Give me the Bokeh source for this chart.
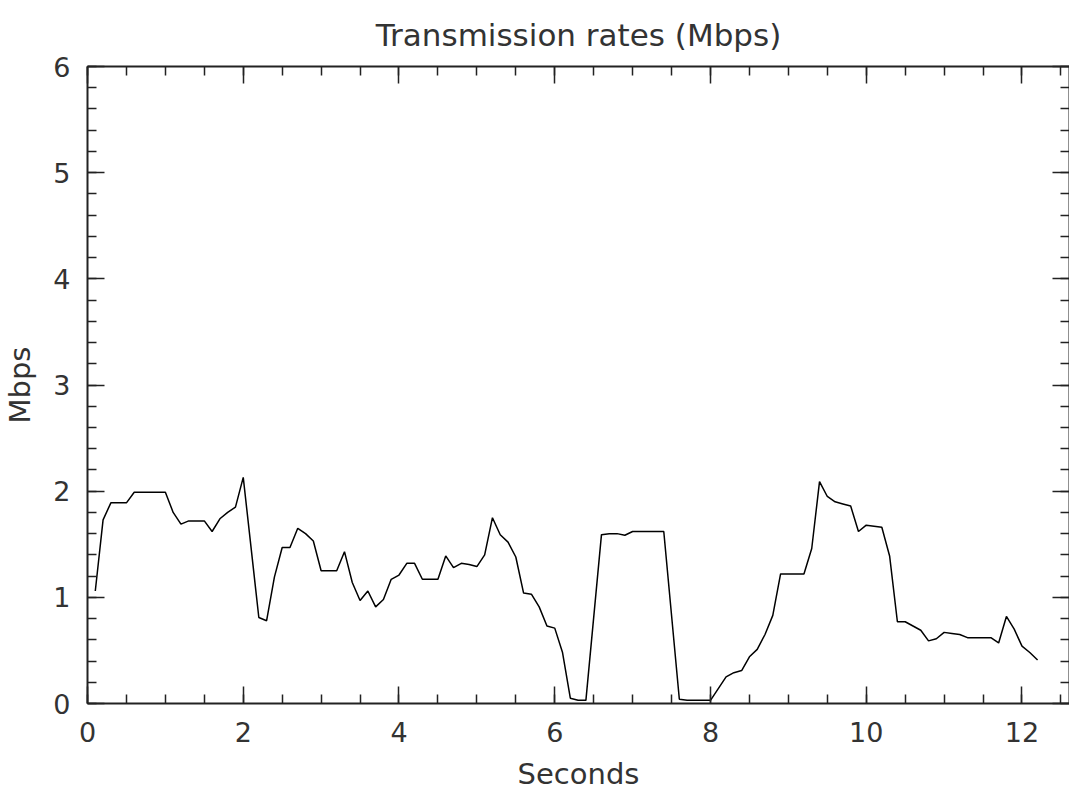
from bokeh.plotting import figure
from bokeh.models import Range1d, LinearAxis, SingleIntervalTicker, CustomJSTickFormatter
from bokeh.embed import file_html
from bokeh.resources import INLINE

# Data (seconds, Mbps)
seconds = [0.1, 0.2, 0.3, 0.4, 0.5, 0.6, 0.7, 0.8, 0.9, 1.0,
           1.1, 1.2, 1.3, 1.4, 1.5, 1.6, 1.7, 1.8, 1.9, 2.0,
           2.1, 2.2, 2.3, 2.4, 2.5, 2.6, 2.7, 2.8, 2.9, 3.0,
           3.1, 3.2, 3.3, 3.4, 3.5, 3.6, 3.7, 3.8, 3.9, 4.0,
           4.1, 4.2, 4.3, 4.4, 4.5, 4.6, 4.7, 4.8, 4.9, 5.0,
           5.1, 5.2, 5.3, 5.4, 5.5, 5.6, 5.7, 5.8, 5.9, 6.0,
           6.1, 6.2, 6.3, 6.4, 6.6, 6.7, 6.8, 6.9, 7.0,
           7.1, 7.2, 7.3, 7.4, 7.6, 7.7, 7.8, 7.9, 8.0,
           8.1, 8.2, 8.3, 8.4, 8.5, 8.6, 8.7, 8.8, 8.9, 9.0,
           9.1, 9.2, 9.3, 9.4, 9.5, 9.6, 9.7, 9.8, 9.9, 10.0,
           10.1, 10.2, 10.3, 10.4, 10.5, 10.6, 10.7, 10.8, 10.9, 11.0,
           11.1, 11.2, 11.3, 11.4, 11.5, 11.6, 11.7, 11.8, 11.9, 12.0,
           12.1, 12.2]
mbps = [1.06, 1.73, 1.89, 1.89, 1.89, 1.99, 1.99, 1.99, 1.99, 1.99,
        1.80, 1.69, 1.72, 1.72, 1.72, 1.62, 1.74, 1.80, 1.85, 2.13,
        1.47, 0.81, 0.78, 1.19, 1.47, 1.47, 1.65, 1.60, 1.53, 1.25,
        1.25, 1.25, 1.43, 1.14, 0.97, 1.06, 0.91, 0.98, 1.17, 1.21,
        1.32, 1.32, 1.17, 1.17, 1.17, 1.39, 1.28, 1.32, 1.31, 1.29,
        1.40, 1.75, 1.59, 1.52, 1.38, 1.04, 1.03, 0.91, 0.73, 0.71,
        0.48, 0.05, 0.03, 0.03, 1.59, 1.60, 1.60, 1.585, 1.62,
        1.62, 1.62, 1.62, 1.62, 0.04, 0.03, 0.03, 0.03, 0.03,
        0.14, 0.25, 0.29, 0.31, 0.44, 0.51, 0.65, 0.83, 1.22, 1.22,
        1.22, 1.22, 1.46, 2.09, 1.95, 1.90, 1.88, 1.86, 1.62, 1.68,
        1.67, 1.66, 1.39, 0.77, 0.77, 0.73, 0.69, 0.59, 0.61, 0.67,
        0.66, 0.65, 0.62, 0.62, 0.62, 0.62, 0.57, 0.82, 0.70, 0.54,
        0.48, 0.41]

FONT = "DejaVu Sans"
TICK_FS = "27px"
LABEL_FS = "29px"
TITLE_FS = "31px"
INK = "#222222"
TXT = "#333333"

p = figure(frame_width=982, frame_height=637,
           x_range=Range1d(0, 12.61), y_range=Range1d(0, 6),
           output_backend="svg", toolbar_location=None,
           min_border_left=79, min_border_right=0,
           min_border_top=66, min_border_bottom=80,
           x_axis_label="Seconds", y_axis_label="Mbps",
           title="Transmission rates (Mbps)")

p.title.align = "center"
p.title.text_font = FONT
p.title.text_font_size = TITLE_FS
p.title.text_font_style = "normal"
p.title.text_color = TXT
p.title.standoff = 27

p.grid.visible = False
p.outline_line_color = None
p.background_fill_color = "white"
p.border_fill_color = "white"

p.xaxis.ticker = SingleIntervalTicker(interval=2, num_minor_ticks=4)
p.yaxis.ticker = SingleIntervalTicker(interval=1, num_minor_ticks=5)


def style(ax):
    ax.axis_line_color = INK
    ax.axis_line_width = 2
    ax.major_tick_line_color = INK
    ax.minor_tick_line_color = INK
    ax.major_tick_line_width = 1.5
    ax.minor_tick_line_width = 1.5
    ax.major_tick_in = 17
    ax.major_tick_out = 0
    ax.minor_tick_in = 9
    ax.minor_tick_out = 0
    ax.major_label_text_font = FONT
    ax.major_label_text_font_size = TICK_FS
    ax.major_label_text_color = TXT
    ax.axis_label_text_font = FONT
    ax.axis_label_text_font_size = LABEL_FS
    ax.axis_label_text_font_style = "normal"
    ax.axis_label_text_color = TXT


for ax in p.xaxis:
    style(ax)
    ax.major_label_standoff = 18
    ax.axis_label_standoff = 12
for ax in p.yaxis:
    style(ax)
    ax.major_label_standoff = 17
    ax.axis_label_standoff = 13

blank = CustomJSTickFormatter(code="return '';")
top = LinearAxis(ticker=SingleIntervalTicker(interval=2, num_minor_ticks=4), formatter=blank)
right = LinearAxis(ticker=SingleIntervalTicker(interval=1, num_minor_ticks=5), formatter=blank)
for ax in (top, right):
    style(ax)
    ax.major_label_standoff = 0
p.add_layout(top, "above")
p.add_layout(right, "right")

p.line(seconds, mbps, line_color="black", line_width=1.5)

open("out.html", "w").write(file_html(p, INLINE))
